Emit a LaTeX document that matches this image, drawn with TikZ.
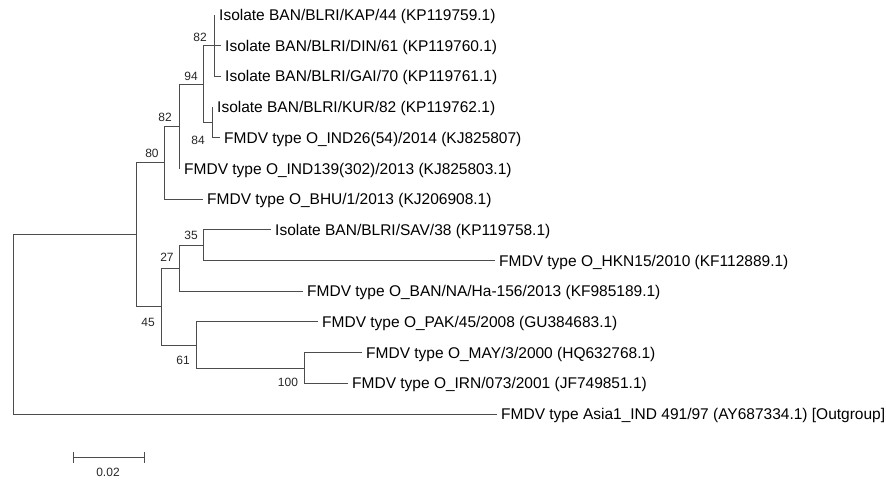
\documentclass[tikz,border=0pt]{standalone}
\usepackage{fontspec}
\setmainfont{Liberation Sans}
\usetikzlibrary{arrows.meta}
\definecolor{treegray}{gray}{0.3}

\begin{document}
\begin{tikzpicture}[x=1pt,y=-1pt,
  branch/.style={draw=treegray,line width=1pt},
  taxon/.style={anchor=west,inner sep=4pt,text height=13pt,text depth=2pt,font=\fontsize{15.5}{18}\selectfont},
  boot/.style={inner sep=0pt,text=black!85,font=\fontsize{12}{14}\selectfont}]
\useasboundingbox (0,0) rectangle (886,480);

\node[taxon] (kap) at (215,15.0) {Isolate BAN/BLRI/KAP/44 (KP119759.1)};
\node[taxon] (din) at (221,45.7) {Isolate BAN/BLRI/DIN/61 (KP119760.1)};
\node[taxon] (gai) at (221,76.4) {Isolate BAN/BLRI/GAI/70 (KP119761.1)};
\node[taxon] (kur) at (213,107.1) {Isolate BAN/BLRI/KUR/82 (KP119762.1)};
\node[taxon] (ind26) at (220,137.8) {FMDV type O\_IND26(54)/2014 (KJ825807)};
\node[taxon] (ind139) at (180,168.5) {FMDV type O\_IND139(302)/2013 (KJ825803.1)};
\node[taxon] (bhu) at (203,199.1) {FMDV type O\_BHU/1/2013 (KJ206908.1)};
\node[taxon] (sav) at (271,229.8) {Isolate BAN/BLRI/SAV/38 (KP119758.1)};
\node[taxon] (hkn) at (495,260.5) {FMDV type O\_HKN15/2010 (KF112889.1)};
\node[taxon] (banna) at (303,291.2) {FMDV type O\_BAN/NA/Ha-156/2013 (KF985189.1)};
\node[taxon] (pak) at (318,321.9) {FMDV type O\_PAK/45/2008 (GU384683.1)};
\node[taxon] (may) at (362,352.6) {FMDV type O\_MAY/3/2000 (HQ632768.1)};
\node[taxon] (irn) at (348,383.3) {FMDV type O\_IRN/073/2001 (JF749851.1)};
\node[taxon] (asia) at (497,414) {FMDV type Asia1\_IND 491/97 (AY687334.1) [Outgroup]};

\coordinate (n82a) at (214,45.7);
\coordinate (n84) at (212,122.5);
\coordinate (n94) at (203,84.1);
\coordinate (n82b) at (179,126.3);
\coordinate (n80) at (164,162.7);
\coordinate (n35) at (203,245.2);
\coordinate (n27) at (179,268.2);
\coordinate (n100) at (304,368);
\coordinate (n61) at (196,345);
\coordinate (n45) at (161,306.6);
\coordinate (nA) at (136,234.6);
\coordinate (root) at (13,324.3);

\draw[branch] (n82a) |- (kap.west);
\draw[branch] (n82a) |- (din.west);
\draw[branch] (n82a) |- (gai.west);
\draw[branch] (n84) |- (kur.west);
\draw[branch] (n84) |- (ind26.west);
\draw[branch] (n94) |- (n82a);
\draw[branch] (n94) |- (n84);
\draw[branch] (n82b) |- (n94);
\draw[branch] (n82b) |- (ind139.west);
\draw[branch] (n80) |- (n82b);
\draw[branch] (n80) |- (bhu.west);
\draw[branch] (n35) |- (sav.west);
\draw[branch] (n35) |- (hkn.west);
\draw[branch] (n27) |- (n35);
\draw[branch] (n27) |- (banna.west);
\draw[branch] (n100) |- (may.west);
\draw[branch] (n100) |- (irn.west);
\draw[branch] (n61) |- (pak.west);
\draw[branch] (n61) |- (n100);
\draw[branch] (n45) |- (n27);
\draw[branch] (n45) |- (n61);
\draw[branch] (nA) |- (n80);
\draw[branch] (nA) |- (n45);
\draw[branch] (root) |- (nA);
\draw[branch] (root) |- (asia.west);

\node[boot] (b82a) at (200,37) {82};
\node[boot] (b94) at (191,76) {94};
\node[boot] (b84) at (198,140) {84};
\node[boot] (b82b) at (165,117) {82};
\node[boot] (b80) at (152,153) {80};
\node[boot] (b35) at (191,235) {35};
\node[boot] (b27) at (167,257) {27};
\node[boot] (b45) at (148,322) {45};
\node[boot] (b61) at (183,360) {61};
\node[boot] (b100) at (288,382) {100};

\coordinate (bar0) at (73,457);
\coordinate (bar1) at (145,457);
\draw[branch,{Bar[width=11pt]}-{Bar[width=11pt]}] (bar0) -- (bar1);
\node[boot] (barlabel) at (108,472) {0.02};
\end{tikzpicture}
\end{document}
